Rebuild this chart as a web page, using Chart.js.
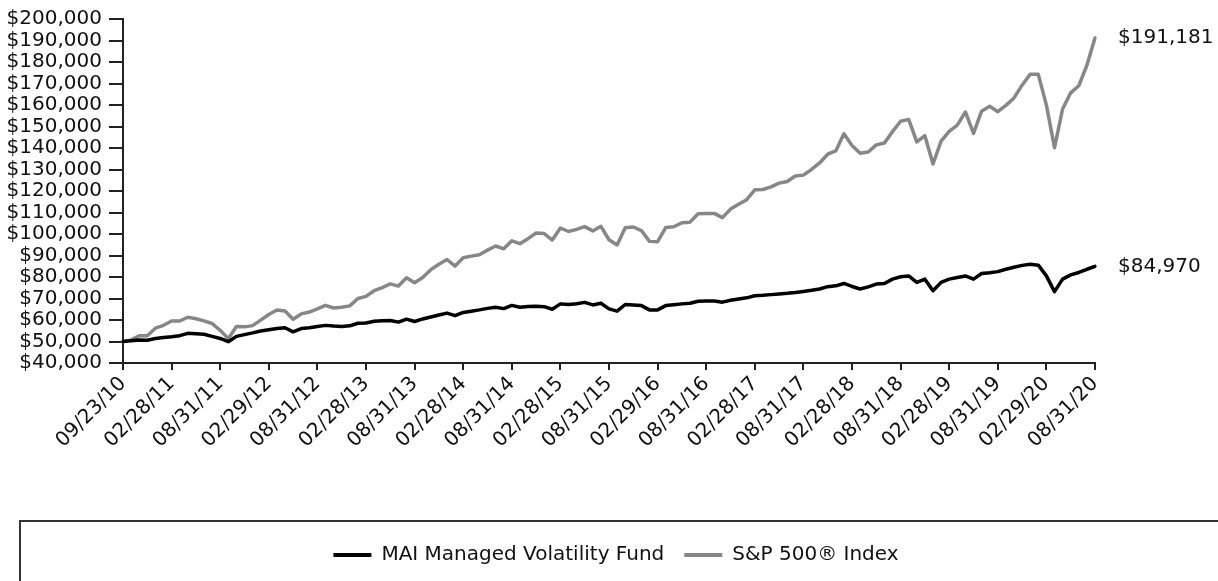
<!DOCTYPE html>
<html>
<head>
<meta charset="utf-8">
<script src="https://cdn.jsdelivr.net/npm/chart.js@4.4.0/dist/chart.umd.min.js"></script>
<style>
html,body{margin:0;padding:0;background:#fff;}
#wrap{position:relative;width:1218px;height:581px;}
canvas{display:block;}
</style>
</head>
<body>
<div id="wrap"><canvas id="c" width="1218" height="581"></canvas></div>
<script>
const categories = [
 '09/23/10','09/30/10','10/31/10','11/30/10','12/31/10',
 '01/31/11','02/28/11','03/31/11','04/30/11','05/31/11','06/30/11','07/31/11','08/31/11','09/30/11','10/31/11','11/30/11','12/31/11',
 '01/31/12','02/29/12','03/31/12','04/30/12','05/31/12','06/30/12','07/31/12','08/31/12','09/30/12','10/31/12','11/30/12','12/31/12',
 '01/31/13','02/28/13','03/31/13','04/30/13','05/31/13','06/30/13','07/31/13','08/31/13','09/30/13','10/31/13','11/30/13','12/31/13',
 '01/31/14','02/28/14','03/31/14','04/30/14','05/31/14','06/30/14','07/31/14','08/31/14','09/30/14','10/31/14','11/30/14','12/31/14',
 '01/31/15','02/28/15','03/31/15','04/30/15','05/31/15','06/30/15','07/31/15','08/31/15','09/30/15','10/31/15','11/30/15','12/31/15',
 '01/31/16','02/29/16','03/31/16','04/30/16','05/31/16','06/30/16','07/31/16','08/31/16','09/30/16','10/31/16','11/30/16','12/31/16',
 '01/31/17','02/28/17','03/31/17','04/30/17','05/31/17','06/30/17','07/31/17','08/31/17','09/30/17','10/31/17','11/30/17','12/31/17',
 '01/31/18','02/28/18','03/31/18','04/30/18','05/31/18','06/30/18','07/31/18','08/31/18','09/30/18','10/31/18','11/30/18','12/31/18',
 '01/31/19','02/28/19','03/31/19','04/30/19','05/31/19','06/30/19','07/31/19','08/31/19','09/30/19','10/31/19','11/30/19','12/31/19',
 '01/31/20','02/29/20','03/31/20','04/30/20','05/31/20','06/30/20','07/31/20','08/31/20'
];

const tickLabels = ['09/23/10','02/28/11','08/31/11','02/29/12','08/31/12','02/28/13','08/31/13','02/28/14','08/31/14','02/28/15','08/31/15','02/29/16','08/31/16','02/28/17','08/31/17','02/28/18','08/31/18','02/28/19','08/31/19','02/29/20','08/31/20'];

const fundValues = [
 50000, 50300, 50700, 50600, 51400, 51900, 52200, 52700, 53800, 53600,
 53400, 52400, 51400, 49900, 52400, 53200, 54000, 54900, 55500, 56000,
 56400, 54500, 56000, 56400, 57000, 57500, 57200, 57000, 57300, 58500,
 58600, 59400, 59700, 59800, 59000, 60400, 59300, 60500, 61400, 62300,
 63200, 62000, 63500, 64100, 64700, 65400, 65900, 65300, 66800, 65900,
 66300, 66400, 66200, 65000, 67500, 67200, 67600, 68200, 67000, 67800,
 65200, 64100, 67200, 67000, 66700, 64700, 64700, 66700, 67100, 67500,
 67800, 68700, 68800, 68800, 68300, 69200, 69800, 70300, 71300, 71500,
 71800, 72100, 72400, 72800, 73300, 73800, 74400, 75500, 75900, 77000,
 75600, 74400, 75400, 76700, 77000, 79000, 80100, 80500, 77500, 79000,
 73600, 77500, 79000, 79800, 80500, 79000, 81600, 82000, 82500, 83600,
 84500, 85400, 85900, 85500, 80500, 73200, 79000, 81000, 82100, 83600,
 84970
];

const spValues = [
 50000, 50750, 52680, 52680, 56200, 57540, 59510, 59530, 61290, 60600,
 59590, 58380, 55210, 51330, 56940, 56810, 57390, 59960, 62550, 64610,
 64210, 60350, 62830, 63710, 65140, 66820, 65580, 65960, 66570, 70010,
 70970, 73630, 75050, 76800, 75770, 79630, 77320, 79750, 83420, 85960,
 88140, 85090, 88980, 89720, 90390, 92510, 94430, 93120, 96850, 95490,
 97820, 100450, 100200, 97200, 102790, 101160, 102130, 103450, 101440, 103570,
 97330, 94920, 102940, 103250, 101610, 96570, 96450, 102990, 103390, 105250,
 105520, 109420, 109570, 109590, 107600, 111580, 113790, 115950, 120550, 120700,
 121940, 123660, 124430, 126990, 127380, 130010, 133040, 137120, 138640, 146590,
 141180, 137590, 138120, 141440, 142320, 147620, 152430, 153300, 142810, 145720,
 132570, 143180, 147780, 150650, 156750, 146790, 157140, 159410, 156890, 159820,
 163290, 169220, 174330, 174260, 159920, 140170, 158140, 165660, 168960, 178490,
 191181
];

const seriesNames = ['MAI Managed Volatility Fund', 'S&P 500\u00AE Index'];
const seriesColors = ['#000000', '#878787'];
const yMin = 40000, yMax = 200000, yStep = 10000;

const FONT = "'DejaVu Sans', Verdana, sans-serif";
const money = v => '$' + Number(v).toLocaleString('en-US');

const endLabels = {
  id: 'endLabels',
  afterDatasetsDraw(chart) {
    const ctx = chart.ctx;
    ctx.save();
    ctx.font = '20px ' + FONT;
    ctx.fillStyle = '#111';
    ctx.textAlign = 'left';
    ctx.textBaseline = 'middle';
    chart.data.datasets.forEach((ds, i) => {
      const meta = chart.getDatasetMeta(i);
      const pt = meta.data[meta.data.length - 1];
      ctx.fillText(money(ds.data[ds.data.length - 1]), pt.x + 23, pt.y);
    });
    ctx.restore();
  }
};

const legendShift = {
  id: 'legendShift',
  afterLayout(chart) { chart.legend.left += 14; }
};

const legendFrame = {
  id: 'legendFrame',
  afterDraw(chart) {
    const L = chart.legend;
    const ctx = chart.ctx;
    ctx.save();
    ctx.strokeStyle = '#333';
    ctx.lineWidth = 2;
    ctx.strokeRect(L.left + 6, L.top - 4, chart.width + 40, 200);
    ctx.restore();
  }
};

new Chart(document.getElementById('c'), {
  type: 'line',
  data: {
    labels: categories,
    datasets: [
      { label: seriesNames[0], data: fundValues, borderColor: seriesColors[0], backgroundColor: seriesColors[0], borderWidth: 3.5, pointRadius: 0, tension: 0, borderJoinStyle: 'round', borderCapStyle: 'round' },
      { label: seriesNames[1], data: spValues, borderColor: seriesColors[1], backgroundColor: seriesColors[1], borderWidth: 3.5, pointRadius: 0, tension: 0, borderJoinStyle: 'round', borderCapStyle: 'round' }
    ]
  },
  options: {
    responsive: false,
    devicePixelRatio: 1,
    animation: false,
    layout: { padding: { left: 0, right: 0, top: 15, bottom: 6 } },
    plugins: {
      tooltip: { enabled: false },
      legend: {
        position: 'bottom',
        labels: {
          font: { family: FONT, size: 20 },
          color: '#111',
          boxWidth: 38,
          boxHeight: 4,
          padding: 20,
          generateLabels(chart) {
            return chart.data.datasets.map((ds, i) => ({
              text: ds.label, fillStyle: ds.borderColor, strokeStyle: ds.borderColor,
              lineWidth: 0, hidden: false, datasetIndex: i, fontColor: '#111'
            }));
          }
        }
      }
    },
    scales: {
      x: {
        type: 'category',
        offset: false,
        grid: { display: true, drawOnChartArea: false, drawTicks: true, tickLength: 7, color: '#222', lineWidth: 2 },
        border: { display: true, color: '#222', width: 2 },
        ticks: {
          autoSkip: false, minRotation: 45, maxRotation: 45, padding: 2,
          font: { family: FONT, size: 20 }, color: '#111',
          callback(val, idx) { const l = categories[idx]; return tickLabels.includes(l) ? l : null; }
        },
        afterFit(s) { s.height = 162; }
      },
      y: {
        type: 'linear', position: 'left', min: yMin, max: yMax,
        grid: { display: true, drawOnChartArea: false, drawTicks: true, tickLength: 14, color: '#222', lineWidth: 2 },
        border: { display: true, color: '#222', width: 2 },
        ticks: { stepSize: yStep, autoSkip: false, padding: 7, font: { family: FONT, size: 20 }, color: '#111', callback: v => money(v) },
        afterFit(s) { s.width = 123; }
      },
      yRight: {
        type: 'linear', position: 'right', display: true,
        grid: { display: false, drawTicks: false }, border: { display: false },
        ticks: { display: false },
        afterFit(s) { s.width = 123; }
      }
    }
  },
  plugins: [endLabels, legendShift, legendFrame]
});
</script>
</body>
</html>
